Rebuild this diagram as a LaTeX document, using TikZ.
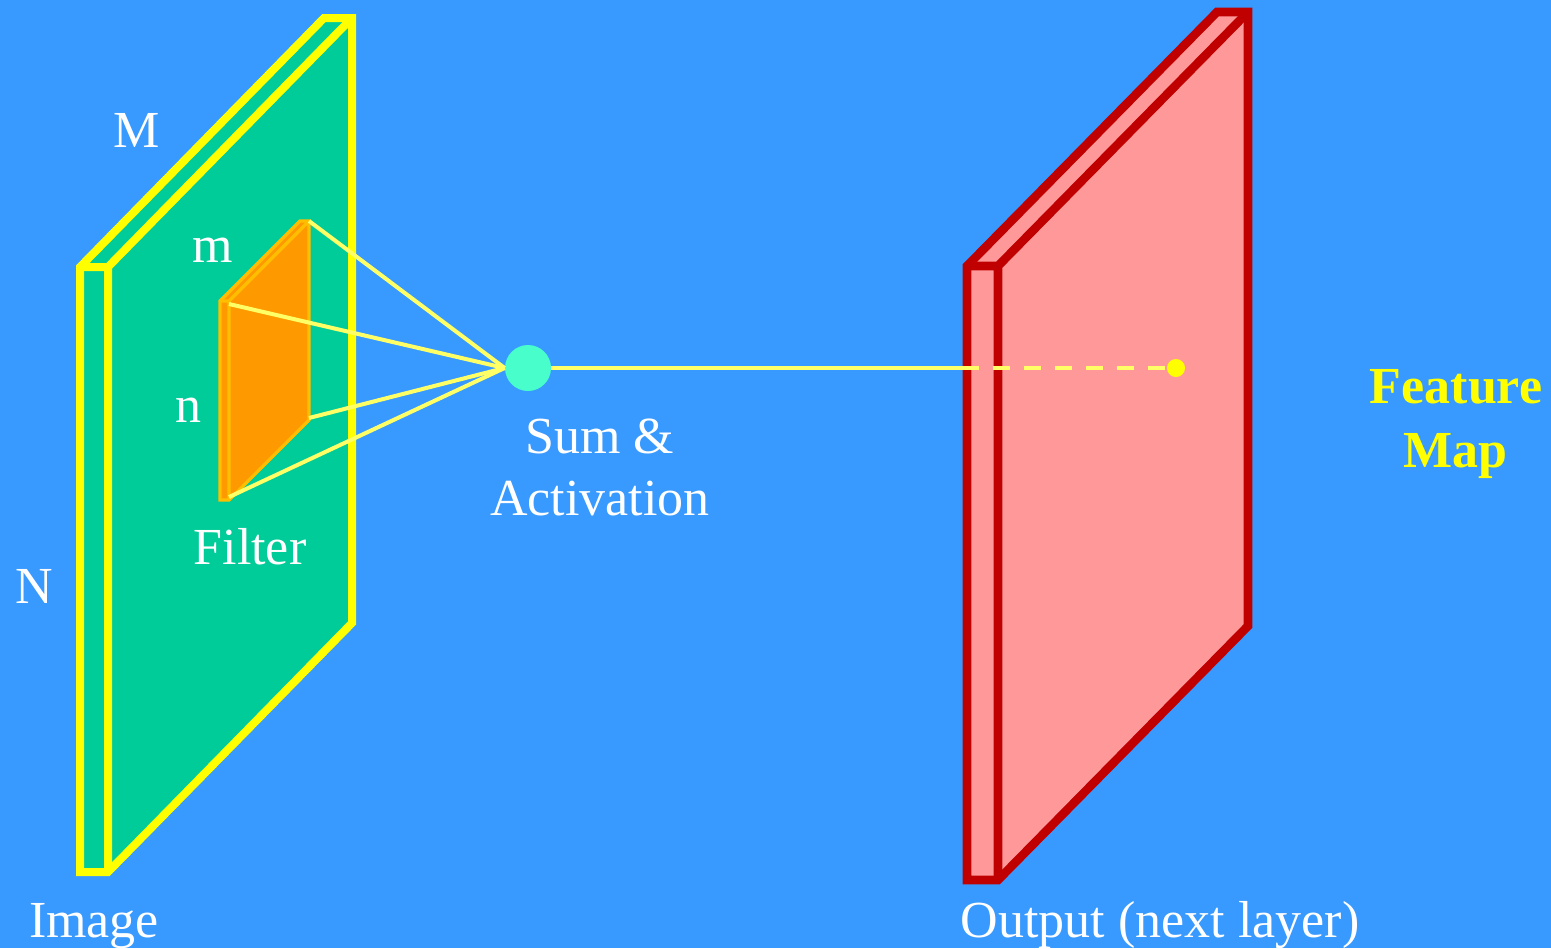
\documentclass[tikz,border=0pt]{standalone}
\usepackage{fontspec}
\setmainfont{Liberation Serif}
\usetikzlibrary{positioning}
\definecolor{SkyBlue}{RGB}{56,153,255}
\definecolor{SeaGreen}{RGB}{0,204,153}
\definecolor{PureYellow}{RGB}{255,255,0}
\definecolor{PaleYellow}{RGB}{255,255,102}
\definecolor{DeepRed}{RGB}{192,0,0}
\definecolor{LightRed}{RGB}{255,153,153}
\definecolor{FilterOrange}{RGB}{255,153,0}
\definecolor{FilterEdge}{RGB}{255,190,0}
\definecolor{Aqua}{RGB}{72,255,204}

\begin{document}
\begin{tikzpicture}[
    x=0.5pt, y=0.5pt,
    font=\fontsize{26}{31}\selectfont,
    imageslab/.style={draw=PureYellow, fill=SeaGreen, line width=4pt},
    outslab/.style={draw=DeepRed, fill=LightRed, line width=4.3pt},
    filterslab/.style={draw=FilterEdge, fill=FilterOrange, line width=1.6pt},
    link/.style={PaleYellow, line width=2pt},
    label/.style={text=white, anchor=base, inner sep=0pt},
    mapword/.style={text=PureYellow, anchor=base, inner sep=0pt, font=\fontsize{26}{31}\selectfont\bfseries},
]

% fond
\fill[SkyBlue] (0,0) rectangle (1551,-948);
\useasboundingbox (0,0) rectangle (1551,-948);

% image d'entree
\draw[imageslab] (80,-872) -- (80,-267) -- (324,-18) -- (352,-18) -- (352,-623) -- (108,-872) -- cycle;
\draw[imageslab, fill=none] (80,-267) -- (108,-267) -- (352,-18) (108,-267) -- (108,-872);

% filtre
\draw[filterslab] (220,-500) -- (220,-301) -- (300,-221) -- (309,-221) -- (309,-420) -- (229,-500) -- cycle;
\draw[filterslab, fill=none] (220,-301) -- (229,-301) -- (309,-221) (229,-301) -- (229,-500);
\coordinate (fbt) at (309,-221);
\coordinate (fft) at (229,-304);
\coordinate (fbb) at (309,-418);
\coordinate (ffb) at (229,-497);

% sortie
\draw[outslab] (967,-880) -- (967,-266) -- (1217,-12) -- (1248,-12) -- (1248,-626) -- (998,-880) -- cycle;
\draw[outslab, fill=none] (967,-266) -- (998,-266) -- (1248,-12) (998,-266) -- (998,-880);

% somme et activation
\node[circle, fill=Aqua, minimum size=23pt, inner sep=0pt] (sum) at (528,-368) {};
\node[circle, fill=PureYellow, minimum size=9pt, inner sep=0pt] (pix) at (1176,-368) {};
\coordinate (hit) at (979,-368);

\draw[link] (fbt) -- (sum.west);
\draw[link] (fft) -- (sum.west);
\draw[link] (fbb) -- (sum.west);
\draw[link] (ffb) -- (sum.west);
\draw[link] (sum.east) -- (hit);
\draw[link, dash pattern=on 8.75pt off 6.75pt, dash phase=8.75pt] (hit) -- (pix);

% etiquettes
\node[label] (bigM) at (137,-147) {M};
\node[label] (smallm) at (213,-262) {m};
\node[label] (smalln) at (188,-422) {n};
\node[label] (bigN) at (34,-603) {N};
\node[label] (filterlbl) at (250,-564) {Filter};
\node[label] (imagelbl) at (94,-937) {Image};
\node[label] (sumlbl) at (600,-453) {Sum \&};
\node[label] (actlbl) at (600,-515) {Activation};
\node[label] (outlbl) at (1160,-937) {Output (next layer)};
\node[mapword] (featlbl) at (1456,-403) {Feature};
\node[mapword] (maplbl) at (1455,-467) {Map};

\end{tikzpicture}
\end{document}
